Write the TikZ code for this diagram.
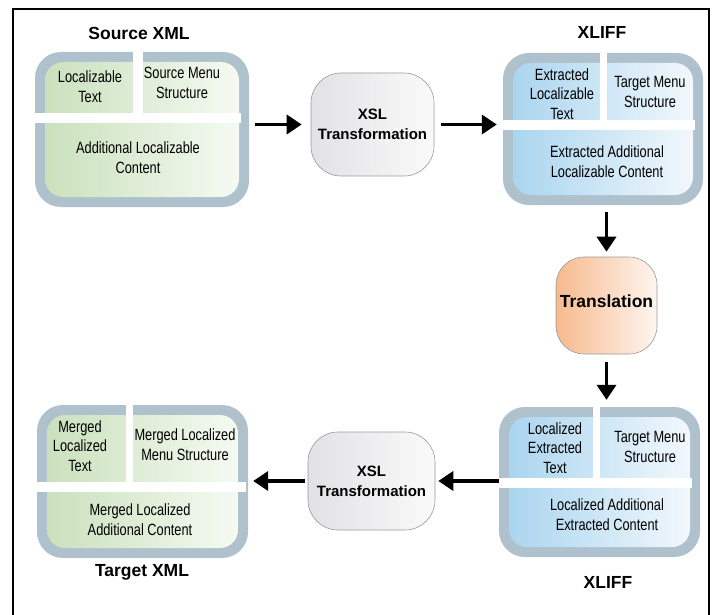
\documentclass[tikz,border=0pt]{standalone}
\usepackage{fontspec}
\setmainfont{Liberation Sans}
\newfontfamily\nar[FakeStretch=0.785]{Liberation Sans}
\usetikzlibrary{arrows.meta}
\definecolor{ring}{RGB}{174,193,205}
\definecolor{gL}{RGB}{202,225,189}
\definecolor{gR}{RGB}{245,250,242}
\definecolor{bL}{RGB}{170,213,239}
\definecolor{bR}{RGB}{242,248,252}
\definecolor{xL}{RGB}{226,226,229}
\definecolor{xR}{RGB}{250,250,250}
\definecolor{oL}{RGB}{247,186,142}
\definecolor{oR}{RGB}{254,246,240}
\tikzset{
  outerbox/.style={fill=ring, rounded corners=26pt, inner sep=0pt, draw=none},
  innerbox/.style={rounded corners=18pt, inner sep=0pt, draw=none},
  procbox/.style={rounded corners=30pt, inner sep=0pt, draw=black!40, line width=0.6pt},
  celltext/.style={align=center, font=\nar\fontsize{16.3}{19.8}\selectfont, inner sep=0pt},
  titletext/.style={font=\bfseries\fontsize{17.5}{20}\selectfont, inner sep=0pt},
  proctext/.style={align=center, font=\bfseries\fontsize{15}{20}\selectfont, inner sep=0pt},
  arr/.style={line width=3.6pt, -{Triangle[length=15pt,width=19pt]}},
  band/.style={fill=white}
}
\begin{document}
\begin{tikzpicture}[x=1pt,y=-1pt]
\useasboundingbox (0,0) rectangle (715,615);
% frame
\draw[line width=2pt] (13,615) -- (13,9) -- (709,9) -- (709,615);

% ---- Source XML ----
\node[outerbox, minimum width=214pt, minimum height=155pt] (src) at (142,129.5) {};
\node[innerbox, left color=gL, right color=gR, minimum width=194pt, minimum height=135pt] (srcin) at (142,129.5) {};
\fill[band] (133,52) rectangle (143,118);
\fill[band] (35,113) rectangle (241,123);
\node[celltext] (s1) at (90,87) {Localizable\\Text};
\node[celltext] (s2) at (182,83) {Source Menu\\Structure};
\node[celltext] (s3) at (138,158) {Additional Localizable\\Content};
\node[titletext] (srct) at (139,33) {Source XML};

% ---- XLIFF top ----
\node[outerbox, minimum width=200pt, minimum height=152pt] (xl1) at (603,129) {};
\node[innerbox, left color=bL, right color=bR, minimum width=180pt, minimum height=132pt] (xl1in) at (603,129) {};
\fill[band] (600,53) rectangle (607,125);
\fill[band] (503,120) rectangle (695,130);
\node[celltext] (x1) at (562,94) {Extracted\\Localizable\\Text};
\node[celltext] (x2) at (650,92) {Target Menu\\Structure};
\node[celltext] (x3) at (607,162) {Extracted Additional\\Localizable Content};
\node[titletext] (xl1t) at (602,32) {XLIFF};

% ---- XLIFF bottom ----
\node[outerbox, minimum width=201pt, minimum height=150pt] (xl2) at (599.5,482) {};
\node[innerbox, left color=bL, right color=bR, minimum width=181pt, minimum height=130pt] (xl2in) at (599.5,482) {};
\fill[band] (593,407) rectangle (600,483);
\fill[band] (499,478) rectangle (692,488);
\node[celltext] (y1) at (555,448) {Localized\\Extracted\\Text};
\node[celltext] (y2) at (650,447) {Target Menu\\Structure};
\node[celltext] (y3) at (607,515) {Localized Additional\\Extracted Content};
\node[titletext] (xl2t) at (608,582) {XLIFF};

% ---- Target XML ----
\node[outerbox, minimum width=211pt, minimum height=153pt] (tgt) at (142.5,481.5) {};
\node[innerbox, left color=gL, right color=gR, minimum width=191pt, minimum height=133pt] (tgtin) at (142.5,481.5) {};
\fill[band] (126,405) rectangle (133,487);
\fill[band] (37,482) rectangle (246,492);
\node[celltext] (t1) at (80,446) {Merged\\Localized\\Text};
\node[celltext] (t2) at (185,445) {Merged Localized\\Menu Structure};
\node[celltext] (t3) at (140,520) {Merged Localized\\Additional Content};
\node[titletext] (tgtt) at (142,572) {Target XML};

% ---- process boxes ----
\node[procbox, left color=xL, right color=xR, minimum width=123pt, minimum height=103pt] (xsl1) at (372.5,124.5) {};
\node[proctext] at (xsl1) {XSL\\Transformation};
\node[procbox, left color=xL, right color=xR, minimum width=127pt, minimum height=98pt] (xsl2) at (371.5,481) {};
\node[proctext] at (xsl2) {XSL\\Transformation};
\node[procbox, rounded corners=28pt, left color=oL, right color=oR, minimum width=101pt, minimum height=97pt] (trn) at (606.5,305.5) {};
\node[font=\bfseries\fontsize{17.5}{20}\selectfont, inner sep=0pt] at (606.5,301) {Translation};

% ---- arrows ----
\draw[arr, shorten <=6pt, shorten >=9pt] (src.east |- xsl1.west) -- (xsl1.west);
\draw[arr, shorten <=7pt, shorten >=6pt] (xsl1.east) -- (xl1.west |- xsl1.east);
\draw[arr, shorten <=7pt, shorten >=5pt] (xl1.south -| trn.north) -- (trn.north);
\draw[arr, shorten <=8pt, shorten >=7pt] (trn.south) -- (xl2.north -| trn.south);
\draw[arr, shorten >=3pt] (xl2.west |- xsl2.east) -- (xsl2.east);
\draw[arr, shorten <=3pt, shorten >=5pt] (xsl2.west) -- (tgt.east |- xsl2.west);
\end{tikzpicture}
\end{document}
